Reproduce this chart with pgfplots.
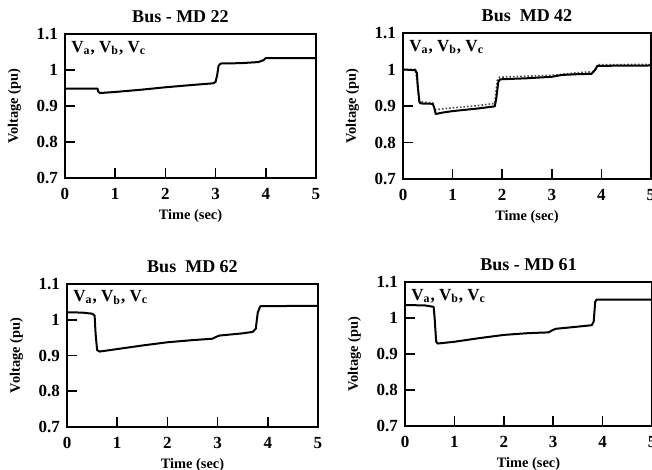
\documentclass[border=0pt]{standalone}
\usepackage{fontspec}
\setmainfont{Liberation Serif}
\usepackage{pgfplots}
\pgfplotsset{compat=1.18}

\pgfplotsset{
  panel/.style={
    scale only axis, anchor=south west,
    xmin=0, xmax=5, ymin=0.7, ymax=1.1,
    xtick={0,1,2,3,4,5},
    ytick={0.7,0.8,0.9,1,1.1},
    yticklabels={0.7,0.8,0.9,1,1.1},
    tick pos=left, tick align=inside,
    major tick length=5pt,
    axis line style={line width=1.2pt},
    every tick/.style={black, line width=0.8pt},
    /pgf/number format/assume math mode=true,
    ticklabel style={font=\bfseries\fontsize{8.5}{9}\selectfont},
    xticklabel style={yshift=-1.5pt},
    xlabel={Time (sec)}, ylabel={Voltage (pu)},
    label style={font=\bfseries\fontsize{7.2}{8}\selectfont},
    xlabel style={yshift=2pt},
    ylabel style={yshift=1pt},
    title style={font=\bfseries\fontsize{9}{10}\selectfont, yshift=-4pt},
    clip=false,
  },
  trace/.style={black, line width=1pt, line join=round},
}
\newcommand{\vabc}{\node[anchor=north west, inner sep=0pt, font=\bfseries\fontsize{8.5}{9}\selectfont]
  at (axis cs:0.12,1.082) {V$_{\mathbf{a}}$, V$_{\mathbf{b}}$, V$_{\mathbf{c}}$};}

\begin{document}
\begin{tikzpicture}
\useasboundingbox (0pt,0pt) rectangle (326pt,235pt);

% top left
\begin{axis}[panel, at={(32.5pt,146pt)}, width=125.5pt, height=72pt,
  title={Bus - MD 22}, title style={xshift=-5pt}]
\addplot[trace] coordinates {
 (0,0.948) (0.65,0.948) (0.66,0.940) (0.7,0.936) (1,0.939) (1.5,0.945)
 (2,0.952) (2.5,0.958) (2.95,0.963) (3.0,0.967) (3.03,0.985) (3.06,1.012)
 (3.1,1.018) (3.5,1.019) (3.85,1.022) (3.95,1.027) (4.0,1.033) (5,1.033)
};
\vabc
\end{axis}

% top right
\begin{axis}[panel, at={(201.5pt,145.5pt)}, width=124pt, height=73pt, title={Bus\ \ MD 42}]
\addplot[black!70, line width=0.8pt, densely dotted] coordinates {
 (0,1.0) (0.25,1.0) (0.3,0.95) (0.33,0.912) (0.6,0.908) (0.65,0.890)
 (1.0,0.895) (1.5,0.901) (1.85,0.907) (1.9,0.97) (1.95,0.979) (3,0.984)
 (3.5,0.991) (3.85,0.994) (3.92,1.013) (5,1.014)
};
\addplot[trace] coordinates {
 (0,1.0) (0.25,0.998) (0.28,0.99) (0.3,0.95) (0.33,0.912) (0.35,0.907)
 (0.6,0.906) (0.63,0.895) (0.66,0.878) (0.8,0.882) (1.0,0.886) (1.5,0.893)
 (1.85,0.899) (1.88,0.92) (1.92,0.965) (1.95,0.973) (2.5,0.976) (3.0,0.980)
 (3.2,0.985) (3.5,0.987) (3.8,0.988) (3.88,1.0) (3.92,1.010) (5,1.011)
};
\vabc
\end{axis}

% bottom left
\begin{axis}[panel, at={(33.5pt,21.5pt)}, width=125.5pt, height=71.5pt, title={Bus\ \ MD 62}]
\addplot[trace] coordinates {
 (0,1.021) (0.3,1.020) (0.5,1.017) (0.55,1.012) (0.57,0.96) (0.6,0.915)
 (0.65,0.911) (1,0.918) (1.5,0.928) (2,0.937) (2.5,0.943) (2.9,0.947)
 (3.0,0.954) (3.05,0.956) (3.5,0.962) (3.7,0.966) (3.76,0.975) (3.8,1.02)
 (3.85,1.038) (5,1.039)
};
\vabc
\end{axis}

% bottom right
\begin{axis}[panel, at={(202.5pt,22pt)}, width=123.5pt, height=72pt, title={Bus - MD 61}]
\addplot[trace] coordinates {
 (0,1.036) (0.4,1.035) (0.58,1.031) (0.6,1.0) (0.63,0.935) (0.66,0.929)
 (1,0.934) (1.5,0.944) (2,0.953) (2.5,0.958) (2.9,0.960) (3.0,0.967)
 (3.05,0.970) (3.5,0.976) (3.78,0.980) (3.82,0.99) (3.85,1.045) (3.88,1.051)
 (5,1.051)
};
\vabc
\end{axis}
\end{tikzpicture}
\end{document}
